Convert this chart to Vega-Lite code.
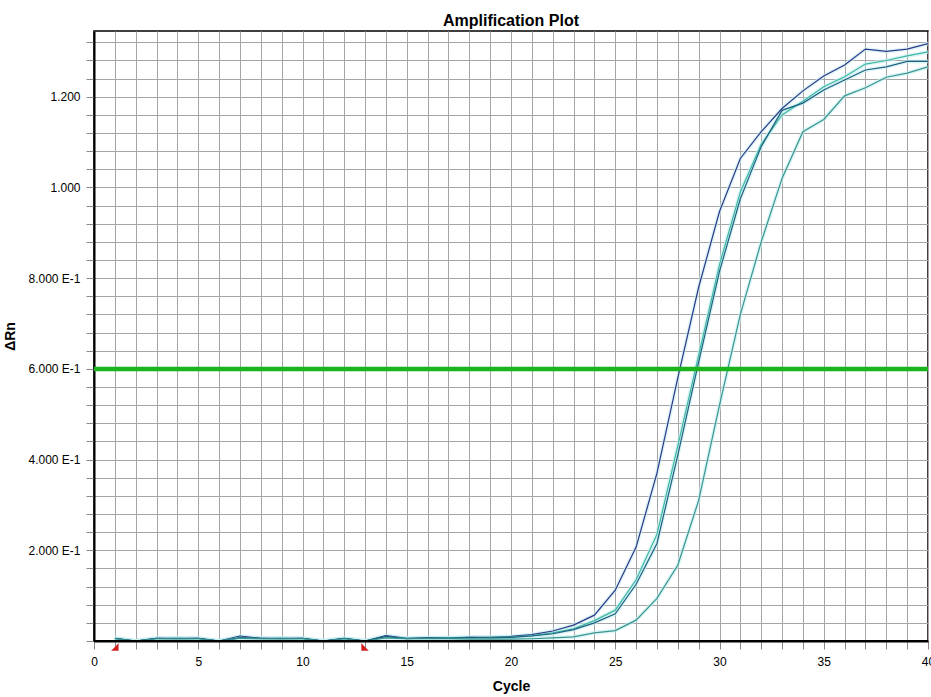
{
  "$schema": "https://vega.github.io/schema/vega-lite/v6.json",
  "width": 834,
  "height": 610,
  "autosize": "none",
  "padding": {"left": 94, "top": 31, "right": 3, "bottom": 56},
  "background": "white",
  "title": {"text": "Amplification Plot", "font": "Liberation Sans", "fontSize": 16, "fontWeight": "bold", "color": "#000", "anchor": "middle", "offset": 2},
  "config": {
    "view": {"stroke": "#000", "strokeWidth": 1.5},
    "axis": {
      "labelFont": "Liberation Sans", "labelFontSize": 12, "labelColor": "#000",
      "titleFont": "Liberation Sans", "titleFontSize": 14, "titleFontWeight": "bold", "titleColor": "#000",
      "gridColor": "#a6a6a6", "gridWidth": 1, "gridOpacity": 1,
      "tickColor": "#8a8a8a", "tickSize": 8, "tickWidth": 1, "tickCount": 200,
      "domainColor": "#000", "domainWidth": 2,
      "labelFlush": false, "labelOverlap": false
    }
  },
  "datasets": {
    "curves": [
      {"well":"A","cycle":1,"dRn":0.006},{"well":"A","cycle":2,"dRn":0},{"well":"A","cycle":3,"dRn":0.006},{"well":"A","cycle":4,"dRn":0.006},{"well":"A","cycle":5,"dRn":0.006},{"well":"A","cycle":6,"dRn":0},{"well":"A","cycle":7,"dRn":0.011},{"well":"A","cycle":8,"dRn":0.006},{"well":"A","cycle":9,"dRn":0.006},{"well":"A","cycle":10,"dRn":0.006},{"well":"A","cycle":11,"dRn":0},{"well":"A","cycle":12,"dRn":0.006},{"well":"A","cycle":13,"dRn":0},{"well":"A","cycle":14,"dRn":0.012},{"well":"A","cycle":15,"dRn":0.006},{"well":"A","cycle":16,"dRn":0.007},{"well":"A","cycle":17,"dRn":0.007},{"well":"A","cycle":18,"dRn":0.008},{"well":"A","cycle":19,"dRn":0.008},
      {"well":"A","cycle":20,"dRn":0.010},{"well":"A","cycle":21,"dRn":0.014},{"well":"A","cycle":22,"dRn":0.022},{"well":"A","cycle":23,"dRn":0.035},{"well":"A","cycle":24,"dRn":0.057},{"well":"A","cycle":25,"dRn":0.112},{"well":"A","cycle":26,"dRn":0.207},{"well":"A","cycle":27,"dRn":0.37},{"well":"A","cycle":28,"dRn":0.58},{"well":"A","cycle":29,"dRn":0.78},{"well":"A","cycle":30,"dRn":0.947},{"well":"A","cycle":31,"dRn":1.064},{"well":"A","cycle":32,"dRn":1.123},{"well":"A","cycle":33,"dRn":1.174},{"well":"A","cycle":34,"dRn":1.213},{"well":"A","cycle":35,"dRn":1.246},{"well":"A","cycle":36,"dRn":1.27},{"well":"A","cycle":37,"dRn":1.305},{"well":"A","cycle":38,"dRn":1.30},{"well":"A","cycle":39,"dRn":1.305},{"well":"A","cycle":40,"dRn":1.317},

      {"well":"B","cycle":1,"dRn":0.005},{"well":"B","cycle":2,"dRn":0},{"well":"B","cycle":3,"dRn":0.005},{"well":"B","cycle":4,"dRn":0.006},{"well":"B","cycle":5,"dRn":0.005},{"well":"B","cycle":6,"dRn":0},{"well":"B","cycle":7,"dRn":0.008},{"well":"B","cycle":8,"dRn":0.005},{"well":"B","cycle":9,"dRn":0.006},{"well":"B","cycle":10,"dRn":0.005},{"well":"B","cycle":11,"dRn":0},{"well":"B","cycle":12,"dRn":0.005},{"well":"B","cycle":13,"dRn":0},{"well":"B","cycle":14,"dRn":0.009},{"well":"B","cycle":15,"dRn":0.006},{"well":"B","cycle":16,"dRn":0.006},{"well":"B","cycle":17,"dRn":0.007},{"well":"B","cycle":18,"dRn":0.007},{"well":"B","cycle":19,"dRn":0.008},
      {"well":"B","cycle":20,"dRn":0.009},{"well":"B","cycle":21,"dRn":0.012},{"well":"B","cycle":22,"dRn":0.018},{"well":"B","cycle":23,"dRn":0.027},{"well":"B","cycle":24,"dRn":0.045},{"well":"B","cycle":25,"dRn":0.068},{"well":"B","cycle":26,"dRn":0.135},{"well":"B","cycle":27,"dRn":0.235},{"well":"B","cycle":28,"dRn":0.43},{"well":"B","cycle":29,"dRn":0.63},{"well":"B","cycle":30,"dRn":0.83},{"well":"B","cycle":31,"dRn":0.99},{"well":"B","cycle":32,"dRn":1.095},{"well":"B","cycle":33,"dRn":1.16},{"well":"B","cycle":34,"dRn":1.19},{"well":"B","cycle":35,"dRn":1.222},{"well":"B","cycle":36,"dRn":1.244},{"well":"B","cycle":37,"dRn":1.272},{"well":"B","cycle":38,"dRn":1.28},{"well":"B","cycle":39,"dRn":1.29},{"well":"B","cycle":40,"dRn":1.299},

      {"well":"C","cycle":1,"dRn":0.006},{"well":"C","cycle":2,"dRn":0},{"well":"C","cycle":3,"dRn":0.006},{"well":"C","cycle":4,"dRn":0.005},{"well":"C","cycle":5,"dRn":0.006},{"well":"C","cycle":6,"dRn":0},{"well":"C","cycle":7,"dRn":0.007},{"well":"C","cycle":8,"dRn":0.006},{"well":"C","cycle":9,"dRn":0.005},{"well":"C","cycle":10,"dRn":0.006},{"well":"C","cycle":11,"dRn":0},{"well":"C","cycle":12,"dRn":0.006},{"well":"C","cycle":13,"dRn":0},{"well":"C","cycle":14,"dRn":0.010},{"well":"C","cycle":15,"dRn":0.005},{"well":"C","cycle":16,"dRn":0.007},{"well":"C","cycle":17,"dRn":0.006},{"well":"C","cycle":18,"dRn":0.008},{"well":"C","cycle":19,"dRn":0.007},
      {"well":"C","cycle":20,"dRn":0.008},{"well":"C","cycle":21,"dRn":0.011},{"well":"C","cycle":22,"dRn":0.016},{"well":"C","cycle":23,"dRn":0.025},{"well":"C","cycle":24,"dRn":0.040},{"well":"C","cycle":25,"dRn":0.060},{"well":"C","cycle":26,"dRn":0.125},{"well":"C","cycle":27,"dRn":0.215},{"well":"C","cycle":28,"dRn":0.41},{"well":"C","cycle":29,"dRn":0.615},{"well":"C","cycle":30,"dRn":0.815},{"well":"C","cycle":31,"dRn":0.975},{"well":"C","cycle":32,"dRn":1.09},{"well":"C","cycle":33,"dRn":1.17},{"well":"C","cycle":34,"dRn":1.186},{"well":"C","cycle":35,"dRn":1.215},{"well":"C","cycle":36,"dRn":1.237},{"well":"C","cycle":37,"dRn":1.259},{"well":"C","cycle":38,"dRn":1.266},{"well":"C","cycle":39,"dRn":1.278},{"well":"C","cycle":40,"dRn":1.278},

      {"well":"D","cycle":1,"dRn":0.005},{"well":"D","cycle":2,"dRn":0},{"well":"D","cycle":3,"dRn":0.005},{"well":"D","cycle":4,"dRn":0.005},{"well":"D","cycle":5,"dRn":0.005},{"well":"D","cycle":6,"dRn":0},{"well":"D","cycle":7,"dRn":0.006},{"well":"D","cycle":8,"dRn":0.005},{"well":"D","cycle":9,"dRn":0.005},{"well":"D","cycle":10,"dRn":0.005},{"well":"D","cycle":11,"dRn":0},{"well":"D","cycle":12,"dRn":0.005},{"well":"D","cycle":13,"dRn":0},{"well":"D","cycle":14,"dRn":0.007},{"well":"D","cycle":15,"dRn":0.005},{"well":"D","cycle":16,"dRn":0.005},{"well":"D","cycle":17,"dRn":0.005},{"well":"D","cycle":18,"dRn":0.004},{"well":"D","cycle":19,"dRn":0.004},
      {"well":"D","cycle":20,"dRn":0.004},{"well":"D","cycle":21,"dRn":0.005},{"well":"D","cycle":22,"dRn":0.007},{"well":"D","cycle":23,"dRn":0.009},{"well":"D","cycle":24,"dRn":0.018},{"well":"D","cycle":25,"dRn":0.023},{"well":"D","cycle":26,"dRn":0.046},{"well":"D","cycle":27,"dRn":0.094},{"well":"D","cycle":28,"dRn":0.167},{"well":"D","cycle":29,"dRn":0.31},{"well":"D","cycle":30,"dRn":0.52},{"well":"D","cycle":31,"dRn":0.72},{"well":"D","cycle":32,"dRn":0.88},{"well":"D","cycle":33,"dRn":1.02},{"well":"D","cycle":34,"dRn":1.123},{"well":"D","cycle":35,"dRn":1.15},{"well":"D","cycle":36,"dRn":1.202},{"well":"D","cycle":37,"dRn":1.22},{"well":"D","cycle":38,"dRn":1.243},{"well":"D","cycle":39,"dRn":1.252},{"well":"D","cycle":40,"dRn":1.266}
    ],
    "markers": [
      {"cycle": 1, "kind": "start"},
      {"cycle": 13, "kind": "end"}
    ],
    "threshold": [
      {"dRn": 0.6}
    ]
  },
  "layer": [
    {
      "data": {"name": "curves"},
      "mark": {"type": "line", "strokeWidth": 4, "color": "#c4eff0", "opacity": 0.6, "clip": true},
      "encoding": {
        "x": {
          "field": "cycle", "type": "quantitative",
          "scale": {"domain": [0, 40], "nice": false, "zero": false},
          "axis": {
            "title": "Cycle",
            "values": [0,1,2,3,4,5,6,7,8,9,10,11,12,13,14,15,16,17,18,19,20,21,22,23,24,25,26,27,28,29,30,31,32,33,34,35,36,37,38,39,40],
            "labelExpr": "datum.value % 5 == 0 ? format(datum.value, 'd') : ''",
            "labelPadding": 7,
            "titlePadding": 12
          }
        },
        "y": {
          "field": "dRn", "type": "quantitative",
          "scale": {"domain": [0, 1.345], "nice": false},
          "axis": {
            "title": "ΔRn",
            "values": [0,0.04,0.08,0.12,0.16,0.2,0.24,0.28,0.32,0.36,0.4,0.44,0.48,0.52,0.56,0.6,0.64,0.68,0.72,0.76,0.8,0.84,0.88,0.92,0.96,1.0,1.04,1.08,1.12,1.16,1.2,1.24,1.28,1.32],
            "labelExpr": "(round(datum.value * 100) % 20 == 0 && datum.value > 0) ? (datum.value >= 1 ? format(datum.value, '.3f') : format(datum.value * 10, '.3f') + ' E-1') : ''",
            "labelPadding": 6,
            "titlePadding": 10
          }
        },
        "detail": {"field": "well"}
      }
    },
    {
      "data": {"name": "curves"},
      "mark": {"type": "line", "strokeWidth": 1.2, "clip": true},
      "encoding": {
        "x": {"field": "cycle", "type": "quantitative"},
        "y": {"field": "dRn", "type": "quantitative"},
        "color": {
          "field": "well", "type": "nominal",
          "scale": {"domain": ["A", "B", "C", "D"], "range": ["#2f3788", "#3cb8a2", "#1f5f80", "#38958f"]},
          "legend": null
        }
      }
    },
    {
      "data": {"name": "threshold"},
      "mark": {"type": "rule", "color": "#1cb41c", "strokeWidth": 4.5},
      "encoding": {"y": {"field": "dRn", "type": "quantitative"}}
    },
    {
      "data": {"name": "threshold"},
      "mark": {"type": "rule", "color": "#000", "strokeWidth": 2.2},
      "encoding": {"y": {"datum": 0}}
    },
    {
      "data": {"name": "markers"},
      "mark": {"type": "point", "filled": true, "color": "#d02020", "opacity": 1, "size": 55, "clip": false, "yOffset": 6},
      "encoding": {
        "x": {"field": "cycle", "type": "quantitative"},
        "y": {"datum": 0},
        "shape": {
          "field": "kind", "type": "nominal",
          "scale": {"domain": ["start", "end"], "range": ["M1,-1L1,1L-1,1Z", "M-1,-1L-1,1L1,1Z"]},
          "legend": null
        }
      }
    }
  ]
}
